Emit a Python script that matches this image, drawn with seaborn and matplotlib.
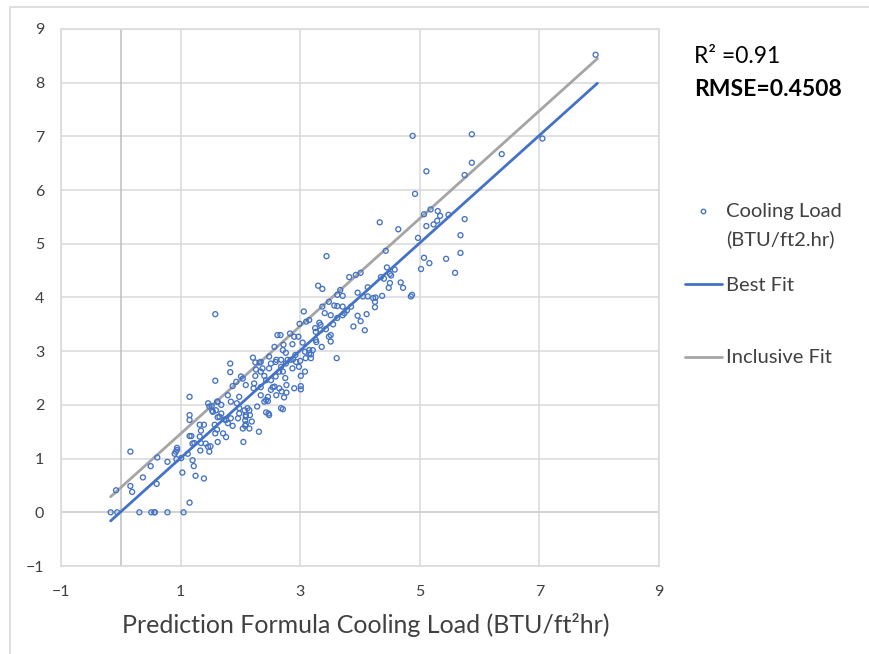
import numpy as np
import pandas as pd
import matplotlib
matplotlib.use("Agg")
import matplotlib.pyplot as plt
from matplotlib.lines import Line2D
from matplotlib.patches import Rectangle
import seaborn as sns

# ---------------- data ----------------
pred_x = [
    7.94, 4.88, 5.87, 7.05, 6.37, 5.11, 5.87, 5.75, 4.92,
    4.33, 4.64, 5.07, 5.18, 5.30, 5.34, 5.48, 5.75, 5.11, 5.23, 5.29, 5.68, 4.97,
    3.44, 4.43, 5.07, 5.16, 5.02, 5.44, 5.68, 5.59, 3.82, 3.93, 4.01, 4.45, 4.50,
    4.52, 4.35, 3.30, 3.37, 3.67, 3.62, 3.71, 3.96, 4.50, 4.48, 4.68, 4.72, 4.13,
    4.26, 4.37, 4.87, 4.85, 4.13, 4.22,
    3.06, 3.37, 3.48, 3.57, 3.62, 3.71, 4.25, 4.25, 3.41, 3.51, 3.71, 3.74, 3.96,
    4.11, 4.01, 3.89, 4.08, 2.99, 3.10, 3.15, 3.32, 3.34, 3.25, 3.26, 3.43, 3.48,
    3.51, 3.51, 3.36, 3.27, 2.67, 2.83, 2.90, 2.97, 3.04, 2.87, 2.72, 3.15, 3.18,
    3.18, 3.08, 3.00, 2.88, 2.92, 2.76, 2.71, 2.79, 3.61, 3.08, 3.01, 3.01, 3.01,
    2.90, 2.77, 2.75, 2.71, 2.68, 2.69, 2.77, 2.73,
    1.58, 1.83, 1.83, 1.58, 1.15, 2.21, 2.25, 2.32, 2.34, 2.48, 2.57, 2.62, 2.26,
    2.37, 2.48, 2.60, 2.01, 2.09, 2.25, 2.40, 2.43, 1.93, 1.87, 2.22, 2.34, 2.54,
    2.60, 2.46, 1.79, 1.98,
    1.46, 1.52, 1.53, 1.15, 1.15, 1.32, 1.39, 1.34, 1.18, 1.15, 1.32, 1.23, 1.20,
    1.34, 1.42, 1.50, 1.33, 1.48, 1.46, 0.94, 0.94, 0.92, 0.90, 1.12, 1.01, 0.16,
    0.61, 0.78, 0.50, 0.93, 1.20, 1.22, 1.03, 1.25, 1.39, 0.37, 0.60, -0.08, 0.16,
    0.19, 1.15, -0.17, -0.06, 0.31, 0.51, 0.56, 0.57, 0.78, 1.05,
    1.61, 1.68, 1.59, 1.68, 1.62, 1.73, 1.84, 1.87, 1.79, 1.96, 1.94, 1.98, 2.07,
    2.12, 2.16, 2.09, 2.19, 2.08, 2.09, 2.15, 2.04, 2.08, 2.28, 2.43, 2.47, 2.71,
    2.40, 2.46, 2.31, 2.05, 1.62, 1.76, 1.71, 1.58, 1.61, 1.57,
    2.51, 2.59, 2.68, 2.76, 2.84, 2.93, 3.09, 2.65, 2.87, 2.98, 2.51, 2.59, 2.65,
    2.57, 2.51, 2.34, 2.43, 2.48, 2.15, 2.09, 1.98, 1.76, 1.65, 1.54, 1.48, 1.62,
    1.84, 2.04, 2.23, 2.34, 2.68, 3.26, 3.34, 3.21, 3.15,
    3.62, 3.78, 3.85, 4.05, 4.40, 4.58, 3.55,
]
actual_y = [
    8.52, 7.01, 7.04, 6.96, 6.67, 6.35, 6.51, 6.28, 5.93,
    5.40, 5.27, 5.55, 5.64, 5.61, 5.52, 5.54, 5.46, 5.33, 5.36, 5.43, 5.16, 5.11,
    4.77, 4.87, 4.74, 4.64, 4.53, 4.72, 4.83, 4.46, 4.38, 4.42, 4.46, 4.56, 4.44,
    4.41, 4.38, 4.22, 4.16, 4.14, 4.05, 4.03, 4.09, 4.27, 4.18, 4.28, 4.18, 4.19,
    4.00, 4.03, 4.05, 4.02, 4.02, 3.99,
    3.74, 3.83, 3.92, 3.85, 3.84, 3.83, 3.92, 3.82, 3.71, 3.67, 3.67, 3.71, 3.66,
    3.69, 3.56, 3.46, 3.39, 3.51, 3.55, 3.58, 3.53, 3.49, 3.43, 3.36, 3.41, 3.27,
    3.30, 3.18, 3.08, 3.17, 3.30, 3.33, 3.27, 3.27, 3.16, 3.13, 3.12, 3.02, 2.94,
    2.87, 2.99, 2.82, 2.85, 2.93, 2.97, 3.02, 2.84, 2.87, 2.62, 2.54, 2.35, 2.29,
    2.31, 2.37, 2.50, 2.62, 2.71, 2.25, 2.23, 2.14,
    3.69, 2.77, 2.61, 2.45, 2.15, 2.88, 2.79, 2.79, 2.80, 2.90, 3.08, 3.30, 2.66,
    2.68, 2.68, 2.84, 2.53, 2.37, 2.54, 2.54, 2.46, 2.43, 2.35, 2.31, 2.33, 2.33,
    2.18, 2.15, 2.18, 2.15,
    2.03, 1.98, 1.89, 1.81, 1.72, 1.63, 1.63, 1.52, 1.42, 1.42, 1.41, 1.29, 1.28,
    1.29, 1.28, 1.23, 1.15, 1.13, 1.22, 1.20, 1.16, 1.13, 1.09, 1.09, 1.01, 1.13,
    1.02, 0.94, 0.86, 0.99, 0.97, 0.86, 0.74, 0.68, 0.63, 0.65, 0.53, 0.41, 0.49,
    0.38, 0.18, 0.00, 0.00, 0.00, 0.00, 0.00, 0.00, 0.00, 0.00,
    2.06, 2.00, 1.90, 1.84, 1.77, 1.73, 1.75, 1.61, 1.66, 1.75, 2.03, 1.94, 1.90,
    1.94, 1.81, 1.78, 1.69, 1.71, 1.64, 1.56, 1.56, 1.61, 1.97, 1.86, 1.84, 1.92,
    2.06, 2.07, 1.50, 1.31, 1.31, 1.40, 1.47, 1.47, 1.54, 1.63,
    2.77, 2.80, 2.84, 2.77, 2.84, 2.80, 2.87, 2.62, 2.68, 2.71, 2.46, 2.53, 2.31,
    2.34, 2.28, 2.18, 2.09, 1.81, 1.90, 1.81, 1.84, 1.72, 1.78, 1.87, 1.97, 2.06,
    2.06, 2.49, 2.40, 2.62, 1.94, 3.21, 3.39, 3.02, 2.96,
    3.62, 3.76, 3.83, 4.02, 4.35, 4.52, 3.50,
]
best_fit_x = [-0.17, 7.97]
best_fit_y = [-0.16, 7.99]
inclusive_fit_x = [-0.17, 7.97]
inclusive_fit_y = [0.29, 8.45]

x_ticks = [-1, 1, 3, 5, 7, 9]
y_ticks = [-1, 0, 1, 2, 3, 4, 5, 6, 7, 8, 9]

r2_text = "R\u00b2 =0.91"
rmse_text = "RMSE=0.4508"
x_label = "Prediction Formula Cooling Load (BTU/ft\u00b2hr)"
legend_labels = ["Cooling Load", "(BTU/ft2.hr)", "Best Fit", "Inclusive Fit"]

# ---------------- style ----------------
sns.set_theme(style="white")
FONT = ["Lato", "DejaVu Sans"]
plt.rcParams["font.family"] = FONT

BLUE = "#4472C4"
GRAY = "#A5A5A5"
GRID = "#D9D9D9"
TXT = "#404040"

W, H = 870, 654
fig = plt.figure(figsize=(W / 100, H / 100), dpi=100)
ax = fig.add_axes([61 / W, 1 - 566 / H, (659 - 61) / W, (566 - 29) / H])

# outer chart border
fig.add_artist(Rectangle((10 / W, -0.05), 1.2, 1 - 7 / H + 0.05,
                         transform=fig.transFigure, fill=False,
                         edgecolor="#D9D9D9", linewidth=1.2))

df = pd.DataFrame({"pred": pred_x, "actual": actual_y})
sns.scatterplot(data=df, x="pred", y="actual", ax=ax, marker="o", s=13,
                facecolor="none", edgecolor=BLUE, linewidth=0.95, zorder=4,
                legend=False)
ax.collections[-1].set_facecolor("none")

fit = pd.DataFrame({"x": best_fit_x, "y": best_fit_y})
inc = pd.DataFrame({"x": inclusive_fit_x, "y": inclusive_fit_y})
sns.lineplot(data=inc, x="x", y="y", ax=ax, color=GRAY, linewidth=2.0,
             zorder=3, legend=False)
sns.lineplot(data=fit, x="x", y="y", ax=ax, color=BLUE, linewidth=2.0,
             zorder=3, legend=False)

ax.set_xlim(-1, 9)
ax.set_ylim(-1, 9)
ax.set_xticks(x_ticks)
ax.set_yticks(y_ticks)
ax.grid(True, color=GRID, linewidth=1.1)
ax.set_axisbelow(True)
ax.axvline(0, color="#BFBFBF", linewidth=1.1, zorder=1)
ax.axhline(0, color="#CFCFCF", linewidth=1.1, zorder=1)
for sp in ax.spines.values():
    sp.set_color(GRID)
    sp.set_linewidth(1.1)
ax.tick_params(axis="both", length=0, labelsize=11.5, labelcolor=TXT)
ax.tick_params(axis="y", pad=12)
ax.tick_params(axis="x", pad=14)
ax.set_xlabel(x_label, fontsize=18, color=TXT)
ax.set_ylabel("")
ax.xaxis.set_label_coords((366 - 61) / (659 - 61), -(625 - 566) / (566 - 29))
ax.xaxis.label.set_va("center")

# right-side annotations
fig.text(694 / W, 1 - 63 / H, r2_text, fontsize=16.5, color="black",
         va="baseline", ha="left")
fig.text(694 / W, 1 - 96 / H, rmse_text, fontsize=16.5, color="black",
         fontweight="bold", va="baseline", ha="left")

# legend (drawn manually to match layout)
fig.add_artist(Line2D([703 / W], [1 - 211 / H], marker="o", markersize=3.2,
                      markerfacecolor="none", markeredgecolor=BLUE,
                      markeredgewidth=0.95, linestyle="none",
                      transform=fig.transFigure))
fig.text(726 / W, 1 - 217 / H, legend_labels[0], fontsize=14.5, color=TXT,
         va="baseline", ha="left")
fig.text(726 / W, 1 - 245 / H, legend_labels[1], fontsize=14.5, color=TXT,
         va="baseline", ha="left")
fig.add_artist(Line2D([685 / W, 722 / W], [1 - 284 / H] * 2, color=BLUE,
                      linewidth=2.0, transform=fig.transFigure))
fig.text(726 / W, 1 - 291 / H, legend_labels[2], fontsize=14.5, color=TXT,
         va="baseline", ha="left")
fig.add_artist(Line2D([685 / W, 722 / W], [1 - 357 / H] * 2, color=GRAY,
                      linewidth=2.0, transform=fig.transFigure))
fig.text(726 / W, 1 - 363 / H, legend_labels[3], fontsize=14.5, color=TXT,
         va="baseline", ha="left")

fig.savefig("out.png", dpi=100)
